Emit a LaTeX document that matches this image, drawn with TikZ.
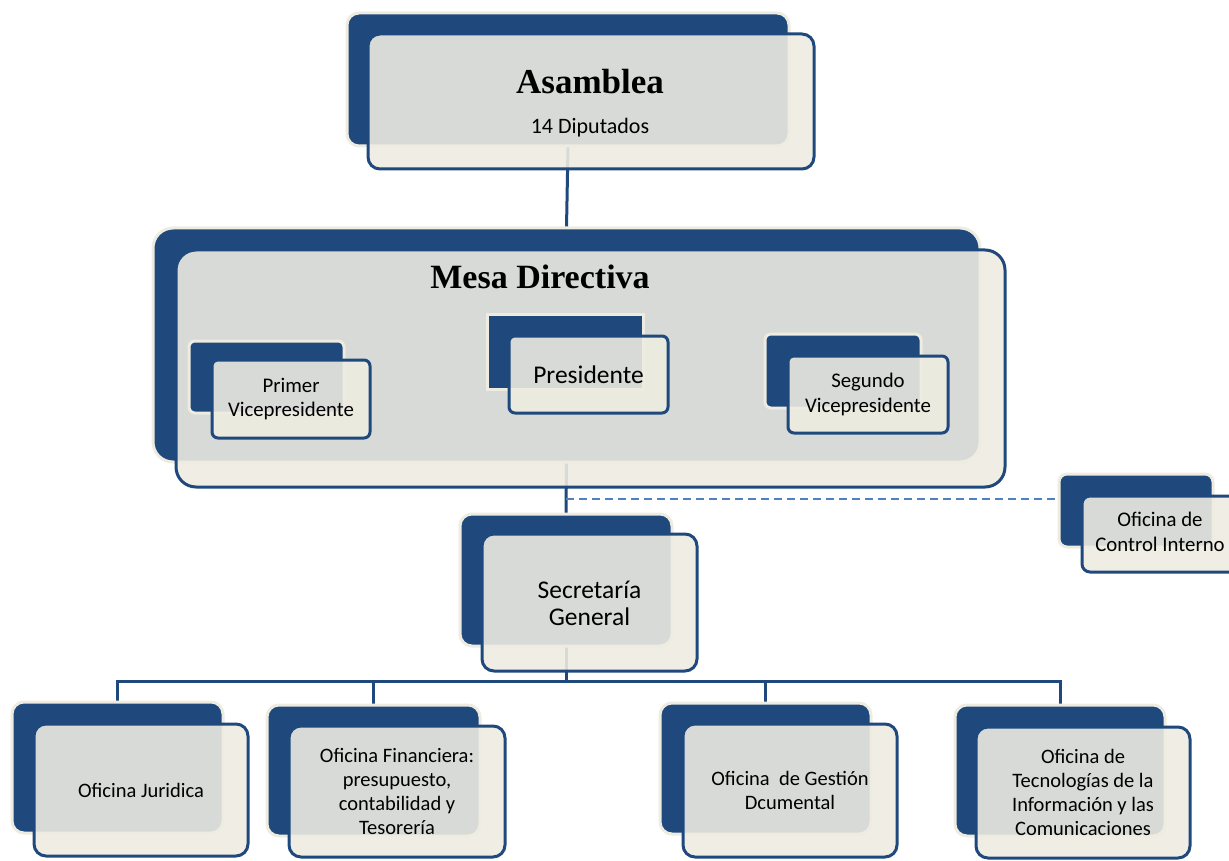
\documentclass[tikz,border=0pt]{standalone}
\usepackage{fontspec}
\setmainfont{Carlito}
\newfontfamily\headserif{Liberation Serif}
\usetikzlibrary{fit,backgrounds}
\definecolor{dblue}{HTML}{1F497D}
\definecolor{beige}{HTML}{EEECE1}
\definecolor{lblue}{HTML}{4F81BD}
\tikzset{
  backst/.style={fill=dblue, draw=beige, line width=3pt, rounded corners=#1, inner sep=0pt, outer sep=0pt},
  backst/.default=10pt,
  frontst/.style={fill=beige, fill opacity=0.89, draw=dblue, draw opacity=1,
    line width=3pt, rounded corners=#1, inner sep=0pt, outer sep=0pt},
  frontst/.default=10pt,
  lbl/.style={align=center, text=black, inner sep=0pt, anchor=center},
  conn/.style={draw=dblue, line width=3pt},
  dconn/.style={draw=lblue, line width=1.5pt, dash pattern=on 8pt off 5pt},
  bigtxt/.style={lbl, font=\fontsize{25.5}{29}\selectfont},
  midtxt/.style={lbl, font=\fontsize{20.8}{24.5}\selectfont},
  smalltxt/.style={lbl, font=\fontsize{20.5}{23.7}\selectfont},
  headtxt/.style={lbl, font=\headserif\bfseries\fontsize{34}{40}\selectfont},
}
\begin{document}
\begin{tikzpicture}[x=1pt,y=-1pt]
\useasboundingbox (0,0) rectangle (1229,861);
% Asamblea
\node[backst=12pt, fit={(347,13)(789,146)}] (asamB) {};
\node[frontst=12pt, fit={(368,34)(814,169)}] (asam) {};
\node[headtxt, font=\headserif\bfseries\fontsize{35}{40}\selectfont] (asamT) at (590,82) {Asamblea};
\node[lbl, font=\fontsize{22}{26}\selectfont] (asamS) at (590,128) {14 Diputados};
% Mesa Directiva
\node[backst=20pt, fit={(153,228)(980,462)}] (mesaB) {};
\node[frontst=20pt, fit={(176,250)(1005,487)}] (mesa) {};
\node[headtxt] (mesaT) at (540,277) {Mesa Directiva};
% inner boxes
\node[backst=6pt, fit={(189,341)(344,413)}] (vp1B) {};
\node[frontst=6pt, fit={(212,360)(370,438)}] (vp1) {};
\node[midtxt] (vp1T) at (vp1.center) {Primer\\Vicepresidente};
\node[backst=0pt, fit={(487,314)(643,389)}] (presB) {};
\node[frontst=6pt, fit={(509,336)(668,413)}] (pres) {};
\node[bigtxt] (presT) at (pres.center) {Presidente};
\node[backst=6pt, fit={(765,334)(921,408)}] (vp2B) {};
\node[frontst=6pt, fit={(788,356)(948,433)}] (vp2) {};
\node[midtxt] (vp2T) at (vp2.center) {Segundo\\Vicepresidente};
% Control Interno
\node[backst=8pt, fit={(1059,474)(1213,547)}] (ctrlB) {};
\node[frontst=8pt, fit={(1082,496)(1242,572)}] (ctrl) {};
\node[midtxt] (ctrlT) at (1160,532) {Oficina de\\Control Interno};
% Secretaria
\node[backst=12pt, fit={(460,514)(672,646)}] (secB) {};
\node[frontst=12pt, fit={(482,534)(697,671)}] (sec) {};
\node[bigtxt, font=\fontsize{25.5}{27}\selectfont] (secT) at ([yshift=-1pt]sec.center) {Secretaría\\General};
% bottom row
\node[backst=12pt, fit={(12,702)(223,833)}] (jurB) {};
\node[frontst=12pt, fit={(34,724)(248,856)}] (jur) {};
\node[smalltxt] (jurT) at (jur.center) {Oficina Juridica};
\node[backst=12pt, fit={(267,705)(480,836)}] (finB) {};
\node[frontst=12pt, fit={(289,726)(505,857)}] (fin) {};
\node[smalltxt] (finT) at (fin.center) {Oficina Financiera:\\presupuesto,\\contabilidad y\\Tesorería};
\node[backst=12pt, fit={(660,703)(871,834)}] (gesB) {};
\node[frontst=12pt, fit={(683,724)(897,857)}] (ges) {};
\node[smalltxt] (gesT) at (ges.center) {Oficina\ \ de Gestión\\Dcumental};
\node[backst=12pt, fit={(955,705)(1165,836)}] (tecB) {};
\node[frontst=12pt, fit={(976,727)(1190,858)}] (tec) {};
\node[smalltxt] (tecT) at (tec.center) {Oficina de\\Tecnologías de la\\Información y las\\Comunicaciones};
% connectors
\coordinate (bus) at (0,681);
\coordinate (dsh) at (566,499);
\begin{pgfonlayer}{background}
  \draw[conn] (asamB.south) -- (mesaB.north);
  \draw[conn] (mesaB.south) -- (secB.north);
  \draw[dconn] (dsh) -- (dsh -| ctrlB.west);
  \draw[conn] (secB.south) -- (secB.south |- bus);
  \draw[conn] (jurB.north) -- (jurB.north |- bus) -- (tecB.north |- bus) -- (tecB.north);
  \draw[conn] (finB.north) -- (finB.north |- bus);
  \draw[conn] (gesB.north) -- (gesB.north |- bus);
\end{pgfonlayer}
\end{tikzpicture}
\end{document}
